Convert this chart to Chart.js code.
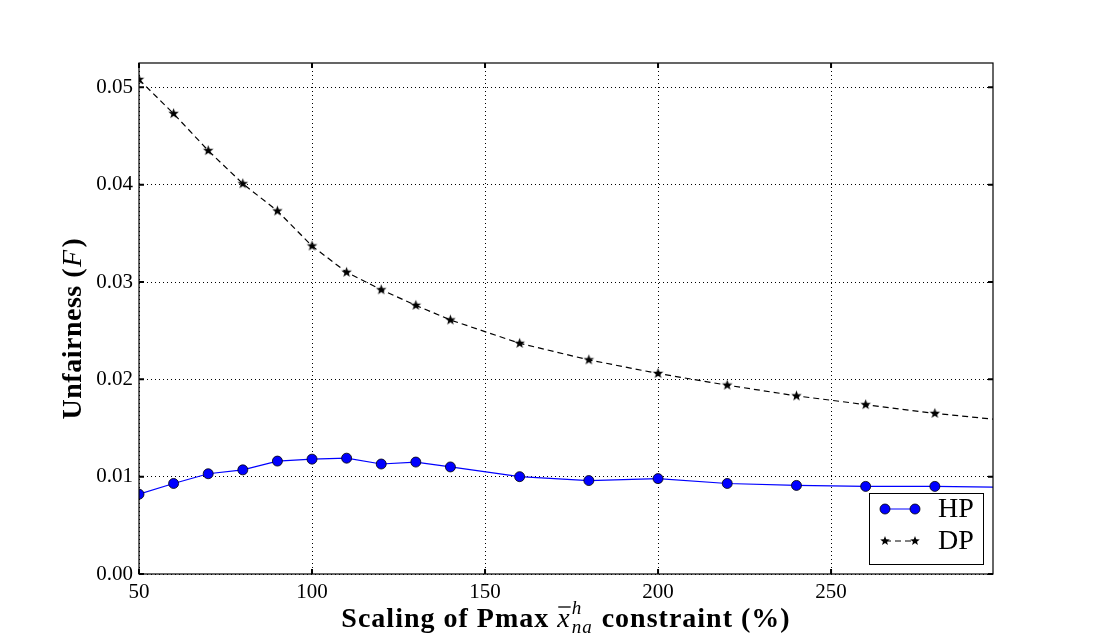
<!DOCTYPE html>
<html>
<head>
<meta charset="utf-8">
<script src="https://cdn.jsdelivr.net/npm/chart.js@4.4.1/dist/chart.umd.min.js"></script>
<style>
  html, body { margin: 0; background: #fff; }
</style>
</head>
<body>
<canvas id="myChart" width="1103" height="638"></canvas>
<script>
// data
var scaling = [50, 60, 70, 80, 90, 100, 110, 120, 130, 140, 160, 180, 200, 220, 240, 260, 280, 300];
var hpValues = [0.0082, 0.0093, 0.0103, 0.0107, 0.0116, 0.0118, 0.0119, 0.0113, 0.0115, 0.0110,
                0.0100, 0.0096, 0.0098, 0.0093, 0.0091, 0.0090, 0.0090, 0.0089];
var dpValues = [0.0508, 0.0473, 0.0435, 0.0401, 0.0373, 0.0337, 0.0310, 0.0292, 0.0276, 0.0261,
                0.0237, 0.0220, 0.0206, 0.0194, 0.0183, 0.0174, 0.0165, 0.0158];
var xTicks = [50, 100, 150, 200, 250];
var yTicks = [0.00, 0.01, 0.02, 0.03, 0.04, 0.05];
var seriesNames = ['HP', 'DP'];

var serif = "'Liberation Serif', 'DejaVu Serif', serif";

// filled five point star used as marker
function makeStar(r) {
    var c = document.createElement('canvas');
    var s = Math.ceil(r * 2 + 2);
    c.width = s; c.height = s;
    var g = c.getContext('2d');
    g.fillStyle = '#000';
    g.beginPath();
    for (var i = 0; i < 10; i++) {
        var rad = (i % 2 == 0) ? r : r * 0.42;
        var a = -Math.PI / 2 + i * Math.PI / 5;
        var px = s / 2 + rad * Math.cos(a), py = s / 2 + rad * Math.sin(a);
        if (i == 0) g.moveTo(px, py); else g.lineTo(px, py);
    }
    g.closePath();
    g.fill();
    return c;
}
var starBig = makeStar(5.5);
var starSmall = makeStar(5);

function pairs(xs, ys) {
    return xs.map(function (x, i) { return {x: x, y: ys[i]}; });
}

// frame, inward ticks, titles and legend
var decor = {
    id: 'decor',
    afterDraw: function (chart) {
        var ctx = chart.ctx, a = chart.chartArea;
        var xs = chart.scales.x, ys = chart.scales.y;
        ctx.save();
        ctx.strokeStyle = '#000';
        ctx.lineWidth = 1.2;
        ctx.strokeRect(a.left, a.top, a.right - a.left, a.bottom - a.top);

        ctx.lineWidth = 2;
        ctx.beginPath();
        xTicks.forEach(function (v) {
            var px = xs.getPixelForValue(v);
            ctx.moveTo(px, a.bottom); ctx.lineTo(px, a.bottom - 5);
            ctx.moveTo(px, a.top); ctx.lineTo(px, a.top + 5);
        });
        yTicks.forEach(function (v) {
            var py = ys.getPixelForValue(v);
            ctx.moveTo(a.left, py); ctx.lineTo(a.left + 5, py);
            ctx.moveTo(a.right, py); ctx.lineTo(a.right - 5, py);
        });
        ctx.stroke();

        // y title
        ctx.fillStyle = '#000';
        ctx.textBaseline = 'alphabetic';
        ctx.save();
        ctx.letterSpacing = '0.5px';
        ctx.translate(81, 330);
        ctx.rotate(-Math.PI / 2);
        var p1 = 'Unfairness (', p2 = 'F', p3 = ')';
        ctx.font = 'bold 28px ' + serif;
        var w1 = ctx.measureText(p1).width, w3 = ctx.measureText(p3).width;
        ctx.font = 'italic 28px ' + serif;
        var w2 = ctx.measureText(p2).width;
        var sx = -(w1 + w2 + w3) / 2;
        ctx.font = 'bold 28px ' + serif;
        ctx.fillText(p1, sx, 0);
        ctx.font = 'italic 28px ' + serif;
        ctx.fillText(p2, sx + w1 + 1, 0);
        ctx.font = 'bold 28px ' + serif;
        ctx.fillText(p3, sx + w1 + w2 + 3, 0);
        ctx.restore();

        // x title
        ctx.save();
        ctx.letterSpacing = '1px';
        var base = 627;
        var t1 = 'Scaling of Pmax ', t5 = ' constraint (%)';
        ctx.font = 'bold 28px ' + serif;
        var a1 = ctx.measureText(t1).width, a5 = ctx.measureText(t5).width;
        ctx.font = 'italic 28px ' + serif;
        var a2 = ctx.measureText('x').width;
        ctx.font = 'italic 19px ' + serif;
        var a3 = Math.max(ctx.measureText('h').width, ctx.measureText('na').width);
        var total = a1 + a2 + a3 + a5 + 2;
        var cx = (a.left + a.right) / 2 - total / 2;
        ctx.font = 'bold 28px ' + serif;
        ctx.fillText(t1, cx, base);
        cx += a1;
        ctx.font = 'italic 28px ' + serif;
        ctx.fillText('x', cx, base);
        ctx.lineWidth = 1.3;
        ctx.beginPath();
        ctx.moveTo(cx + 1, base - 20); ctx.lineTo(cx + a2, base - 20);
        ctx.stroke();
        cx += a2 + 1;
        ctx.font = 'italic 19px ' + serif;
        ctx.fillText('h', cx, base - 13);
        ctx.fillText('na', cx, base + 6);
        cx += a3 + 1;
        ctx.font = 'bold 28px ' + serif;
        ctx.fillText(t5, cx, base);
        ctx.restore();

        // legend
        var lx = 869, ly = 493, lw = 114, lh = 71;
        ctx.fillStyle = '#fff';
        ctx.fillRect(lx, ly, lw, lh);
        ctx.lineWidth = 1;
        ctx.strokeStyle = '#000';
        ctx.strokeRect(lx + 0.5, ly + 0.5, lw, lh);

        var r1 = ly + 16, r2 = ly + 48;
        ctx.strokeStyle = '#0000ff';
        ctx.beginPath(); ctx.moveTo(885, r1); ctx.lineTo(915, r1); ctx.stroke();
        [885, 915].forEach(function (px) {
            ctx.beginPath();
            ctx.arc(px, r1, 5, 0, Math.PI * 2);
            ctx.fillStyle = '#0000ff';
            ctx.fill();
            ctx.strokeStyle = '#000';
            ctx.lineWidth = 0.8;
            ctx.stroke();
        });
        ctx.strokeStyle = '#000';
        ctx.lineWidth = 1;
        ctx.setLineDash([6, 4]);
        ctx.beginPath(); ctx.moveTo(885, r2); ctx.lineTo(915, r2); ctx.stroke();
        ctx.setLineDash([]);
        ctx.drawImage(starSmall, 885 - starSmall.width / 2, r2 - starSmall.height / 2);
        ctx.drawImage(starSmall, 915 - starSmall.width / 2, r2 - starSmall.height / 2);

        ctx.fillStyle = '#000';
        ctx.font = '28px ' + serif;
        ctx.textBaseline = 'middle';
        ctx.fillText(seriesNames[0], 938, r1 + 1);
        ctx.fillText(seriesNames[1], 938, r2 + 1);
        ctx.restore();
    }
};

function drawGraph() {
    var ctx = document.getElementById('myChart');
    var myChart = new Chart(ctx, {
        type: 'line',
        data: {
            datasets: [{
                label: seriesNames[0],
                data: pairs(scaling, hpValues),
                borderColor: '#0000ff',
                borderWidth: 1.2,
                backgroundColor: '#0000ff',
                pointBackgroundColor: '#0000ff',
                pointBorderColor: '#000',
                pointBorderWidth: 0.8,
                pointRadius: 5,
                tension: 0,
                fill: false
            }, {
                label: seriesNames[1],
                data: pairs(scaling, dpValues),
                borderColor: '#000',
                borderWidth: 1.2,
                borderDash: [6, 4],
                pointStyle: starBig,
                pointRadius: 6,
                tension: 0,
                fill: false
            }]
        },
        options: {
            responsive: false,
            animation: false,
            events: [],
            layout: {padding: {left: 0, top: 63, right: 110, bottom: 0}},
            plugins: {legend: {display: false}, tooltip: {enabled: false}},
            scales: {
                x: {
                    type: 'linear',
                    min: 50,
                    max: 296.8,
                    afterFit: function (s) { s.height = 64; },
                    afterBuildTicks: function (s) { s.ticks = xTicks.map(function (v) { return {value: v}; }); },
                    grid: {color: '#000', lineWidth: 1, drawTicks: false},
                    border: {display: false, dash: [1, 3]},
                    ticks: {
                        padding: 6,
                        color: '#000',
                        font: {family: serif, size: 21},
                        maxRotation: 0
                    }
                },
                y: {
                    type: 'linear',
                    min: 0,
                    max: 0.0525,
                    afterFit: function (s) { s.width = 139; },
                    afterBuildTicks: function (s) { s.ticks = yTicks.map(function (v) { return {value: v}; }); },
                    grid: {color: '#000', lineWidth: 1, drawTicks: false},
                    border: {display: false, dash: [1, 3]},
                    ticks: {
                        padding: 6,
                        color: '#000',
                        font: {family: serif, size: 21},
                        callback: function (v) { return v.toFixed(2); }
                    }
                }
            }
        },
        plugins: [decor]
    });
}

drawGraph();
</script>
</body>
</html>
